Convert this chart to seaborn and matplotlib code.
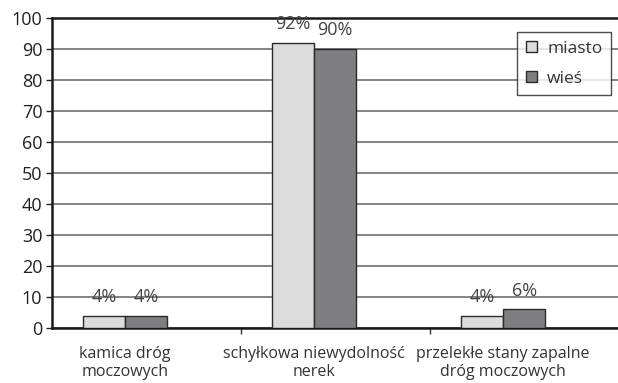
import matplotlib
matplotlib.use("Agg")
import matplotlib.pyplot as plt
import seaborn as sns
import pandas as pd

categories = ["kamica dróg\nmoczowych", "schyłkowa niewydolność\nnerek", "przelekłe stany zapalne\ndróg moczowych"]
series_names = ["miasto", "wieś"]
miasto = [4, 92, 4]
wies = [4, 90, 6]
yticks = [0, 10, 20, 30, 40, 50, 60, 70, 80, 90, 100]

sns.set_theme(style="white")
plt.rcParams['font.family'] = ['Open Sans', 'DejaVu Sans']

df = pd.DataFrame({
    "kategoria": categories * 2,
    "grupa": [series_names[0]] * 3 + [series_names[1]] * 3,
    "wartosc": miasto + wies,
})

fig = plt.figure(figsize=(6.18, 3.83), dpi=100)
ax = fig.add_axes([52 / 618, (383 - 328) / 383, (618 - 52) / 618, (328 - 18) / 383])

palette = {"miasto": "#dcdcdd", "wieś": "#7f7f82"}
sns.barplot(data=df, x="kategoria", y="wartosc", hue="grupa", palette=palette,
            width=0.445, edgecolor="#2a2a2a", linewidth=1.0, saturation=1,
            ax=ax, zorder=3)

ax.set_xlim(-0.386, 2.608)
ax.set_ylim(0, 100)
ax.set_yticks(yticks)
ax.set_yticklabels([str(t) for t in yticks], fontsize=13, color="#222222")
ax.yaxis.grid(True, color="#6e6e6e", linewidth=1.2, zorder=0)
ax.set_axisbelow(True)
ax.set_xlabel("")
ax.set_ylabel("")
ax.tick_params(axis="y", left=True, length=4, width=1, color="#222222", pad=3)
ax.set_xticks([0, 1, 2])
ax.set_xticklabels(categories, fontsize=11.5, color="#333333", linespacing=1.2)
ax.tick_params(axis="x", which="major", length=0, pad=13)
ax.set_xticks([0.614, 1.614], minor=True)
ax.tick_params(axis="x", which="minor", bottom=True, length=4, width=1, color="#333333")

for side in ["left", "bottom", "top"]:
    ax.spines[side].set_visible(True)
    ax.spines[side].set_color("#1a1a1a")
    ax.spines[side].set_linewidth(1.8)
ax.spines["right"].set_visible(False)

for cont in ax.containers:
    labels = [f"{int(v)}%" for v in cont.datavalues]
    ax.bar_label(cont, labels=labels, padding=7, fontsize=13, color="#444444")

leg = ax.legend(loc="upper right", bbox_to_anchor=(0.988, 0.955), frameon=True,
                fontsize=12.5, handlelength=0.65, handleheight=0.65, handletextpad=0.6,
                labelspacing=0.8, borderpad=0.5, borderaxespad=0, fancybox=False)
leg.get_frame().set_edgecolor("#222222")
leg.get_frame().set_linewidth(1.0)
for t in leg.get_texts():
    t.set_color("#333333")

fig.savefig("out.png", dpi=100)
